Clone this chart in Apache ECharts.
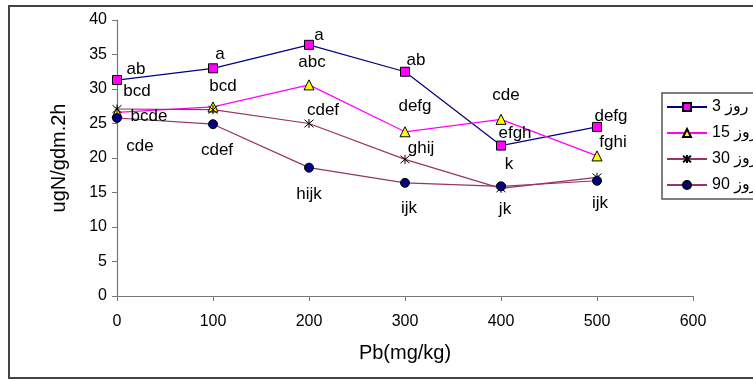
<!DOCTYPE html>
<html>
<head>
<meta charset="utf-8">
<script src="https://cdn.jsdelivr.net/npm/echarts@6/dist/echarts.min.js"></script>
<style>
  html, body { margin: 0; padding: 0; background: #fff; }
  #chart { width: 753px; height: 381px; }
</style>
</head>
<body>
<div id="chart"></div>
<script>
  // Pb dose (x) and values
  const pb = [0, 100, 200, 300, 400, 500];
  const day3 = [31.3, 33.0, 36.4, 32.5, 21.8, 24.5];
  const day15 = [26.6, 27.4, 30.6, 23.8, 25.6, 20.3];
  const day30 = [27.1, 27.0, 25.0, 19.8, 15.6, 17.2];
  const day90 = [25.8, 24.9, 18.6, 16.4, 15.9, 16.7];
  const letters3 = ['ab', 'a', 'a', 'ab', 'efgh', 'defg'];
  const letters15 = ['bcd', 'bcd', 'abc', 'defg', 'cde', 'fghi'];
  const letters30 = ['bcde', '', 'cdef', 'ghij', 'k', ''];
  const letters90 = ['cde', 'cdef', 'hijk', 'ijk', 'jk', 'ijk'];
  const seriesNames = ['3 روز', '15 روز', '30 روز', '90 روز'];

  // label placement next to each point (px)
  const off3 = [[19, -11], [7, -14], [10, -10], [11, -11], [14, -12], [14, -11]];
  const off15 = [[20, -21], [10, -21], [3, -23], [10, -25], [5, -24], [16, -14]];
  const off30 = [[32, 7], [0, 0], [14, -13], [16, -11], [8, -24], [0, 0]];
  const off90 = [[23, 28], [4, 26], [0, 27], [4, 25], [4, 23], [3, 23]];

  const font = 'Arial, "Liberation Sans", "DejaVu Sans", sans-serif';
  const asterisk = 'path://M0,0 L10,10 M10,0 L0,10 M5,-1 L5,11';

  function points(values, letters, offsets) {
    return values.map((v, i) => ({
      value: [pb[i], v],
      label: {
        show: letters[i] !== '',
        formatter: letters[i],
        offset: offsets[i]
      }
    }));
  }

  function makeSeries(name, values, letters, offsets, lineColor, lineWidth, symbol, size, fill, border) {
    return {
      name: name,
      type: 'line',
      data: points(values, letters, offsets),
      symbol: symbol,
      symbolSize: size,
      showAllSymbol: true,
      lineStyle: { color: lineColor, width: lineWidth },
      itemStyle: { color: fill, borderColor: border, borderWidth: 1 },
      label: {
        position: 'inside',
        color: '#000',
        fontSize: 17,
        fontFamily: font,
        align: 'center',
        verticalAlign: 'middle'
      },
      emphasis: { disabled: true },
      z: 3
    };
  }

  const chart = echarts.init(document.getElementById('chart'));
  const option = {
    animation: false,
    backgroundColor: '#fff',
    textStyle: { fontFamily: font },
    graphic: [{
      type: 'rect',
      shape: { x: 9, y: 6, width: 780, height: 372 },
      style: { fill: 'none', stroke: '#444', lineWidth: 2 },
      z: 0
    }],
    grid: { left: 117, right: 60, top: 20, bottom: 85 },
    legend: {
      orient: 'vertical',
      left: 662,
      top: 93,
      itemWidth: 40,
      itemHeight: 10,
      itemGap: 10,
      padding: [6, 5, 6, 4],
      borderColor: '#555',
      borderWidth: 1.5,
      textStyle: { fontSize: 16, color: '#000', fontFamily: font },
      data: seriesNames
    },
    xAxis: {
      type: 'value',
      min: 0,
      max: 600,
      interval: 100,
      name: 'Pb(mg/kg)',
      nameLocation: 'middle',
      nameGap: 47,
      nameTextStyle: { fontSize: 20, color: '#000' },
      axisLine: { lineStyle: { color: '#777', width: 1.2 } },
      axisTick: { inside: false, length: 5, lineStyle: { color: '#777' } },
      axisLabel: { color: '#000', fontSize: 16, margin: 18 },
      splitLine: { show: false }
    },
    yAxis: {
      type: 'value',
      min: 0,
      max: 40,
      interval: 5,
      name: 'ugN/gdm.2h',
      nameLocation: 'middle',
      nameGap: 48,
      nameTextStyle: { fontSize: 20, color: '#000' },
      axisLine: { show: true, lineStyle: { color: '#777', width: 1.2 } },
      axisTick: { show: true, length: 5, lineStyle: { color: '#777' } },
      axisLabel: { color: '#000', fontSize: 16, margin: 10 },
      splitLine: { show: false }
    },
    series: [
      makeSeries(seriesNames[0], day3, letters3, off3, '#000080', 1.2, 'rect', 9, '#ff00ff', '#000'),
      makeSeries(seriesNames[1], day15, letters15, off15, '#ff00ff', 1.2, 'triangle', 10, '#ffff00', '#000'),
      makeSeries(seriesNames[2], day30, letters30, off30, '#993366', 1.2, asterisk, 9, 'rgba(0,0,0,0)', '#000'),
      makeSeries(seriesNames[3], day90, letters90, off90, '#993366', 1.2, 'circle', 9, '#000080', '#000')
    ]
  };
  chart.setOption(option);
</script>
</body>
</html>
